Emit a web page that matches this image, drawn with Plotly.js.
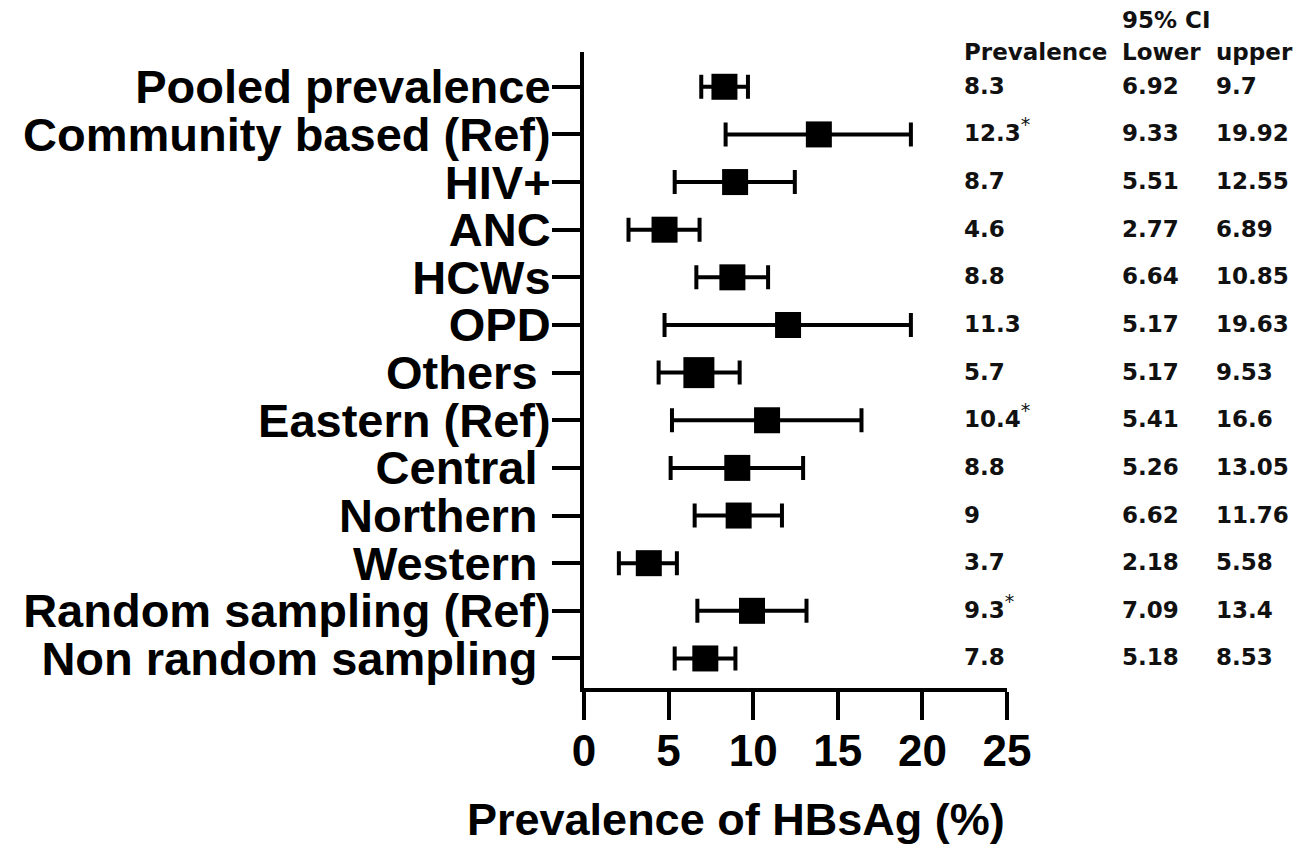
<!DOCTYPE html>
<html>
<head>
<meta charset="utf-8">
<script src="https://cdn.plot.ly/plotly-3.0.1.min.js"></script>
<style>html,body{margin:0;padding:0;background:#fff;}#chart{width:1305px;height:861px;}</style>
</head>
<body>
<div id="chart"></div>
<script>
// Categories (top to bottom)
const categories = ["Pooled prevalence","Community based (Ref)","HIV+","ANC","HCWs","OPD","Others","Eastern (Ref)","Central","Northern","Western","Random sampling (Ref)","Non random sampling"];
const tickLabels = ["Pooled prevalence","Community based (Ref)","HIV+","ANC","HCWs","OPD","Others\u00a0","Eastern (Ref)","Central\u00a0","Northern\u00a0","Western\u00a0","Random sampling (Ref)","Non random sampling\u00a0"];
// Plotted point estimates and CI ends
const pointEst = [8.30,13.88,8.93,4.76,8.77,12.06,6.79,10.82,9.06,9.14,3.83,9.93,7.17];
const ciLow    = [6.93,8.37,5.36,2.63,6.64,4.76,4.41,5.20,5.12,6.54,2.06,6.70,5.36];
const ciHigh   = [9.69,19.32,12.46,6.83,10.88,19.32,9.20,16.40,12.95,11.70,5.49,13.15,8.95];
const markerSizes = [26,26,26,26,26,26,31,26,26,26,26,26,26];
// Table text on the right
const star = "<sup><span style='font-weight:normal;font-size:19px'>*</span></sup>";
const prevText  = ["8.3","12.3"+star,"8.7","4.6","8.8","11.3","5.7","10.4"+star,"8.8","9","3.7","9.3"+star,"7.8"];
const lowerText = ["6.92","9.33","5.51","2.77","6.64","5.17","5.17","5.41","5.26","6.62","2.18","7.09","5.18"];
const upperText = ["9.7","19.92","12.55","6.89","10.85","19.63","9.53","16.6","13.05","11.76","5.58","13.4","8.53"];
const xTicks = [0,5,10,15,20,25];

const labelFont = {family:"Liberation Sans, Arial, sans-serif", size:47, color:"#000", weight:700};
const tableFont = {family:"DejaVu Sans, Verdana, sans-serif", size:23, color:"#111", weight:700};

const trace = {
  type:"scatter", mode:"markers",
  x: pointEst, y: categories,
  marker:{symbol:"square", size:markerSizes, color:"#000", opacity:1, line:{width:0}},
  error_x:{type:"data", symmetric:false,
    array: pointEst.map((v,i)=>ciHigh[i]-v),
    arrayminus: pointEst.map((v,i)=>v-ciLow[i]),
    color:"#000", thickness:4, width:12},
  cliponaxis:false, hoverinfo:"skip"
};

const annotations = [];
const colX = {prev:(963-584)/423, low:(1121-584)/423, up:(1215-584)/423};
categories.forEach((c,i)=>{
  [[prevText,colX.prev],[lowerText,colX.low],[upperText,colX.up]].forEach(([arr,xx])=>{
    annotations.push({xref:"paper", yref:"y", x:xx, y:c, text:arr[i], showarrow:false,
      xanchor:"left", yanchor:"bottom", font:tableFont, borderpad:0, yshift:-13});
  });
});
annotations.push({xref:"paper", yref:"paper", x:colX.low, y:(688-20)/636, text:"95% CI", showarrow:false, xanchor:"left", yanchor:"middle", font:tableFont, borderpad:0});
annotations.push({xref:"paper", yref:"paper", x:colX.prev, y:(688-52)/636, text:"Prevalence", showarrow:false, xanchor:"left", yanchor:"middle", font:tableFont, borderpad:0});
annotations.push({xref:"paper", yref:"paper", x:colX.low, y:(688-52)/636, text:"Lower", showarrow:false, xanchor:"left", yanchor:"middle", font:tableFont, borderpad:0});
annotations.push({xref:"paper", yref:"paper", x:colX.up, y:(688-52)/636, text:"upper", showarrow:false, xanchor:"left", yanchor:"middle", font:tableFont, borderpad:0});
annotations.push({xref:"paper", yref:"paper", x:(736-584)/423, y:(688-819)/636, text:"Prevalence of HBsAg (%)", showarrow:false, xanchor:"center", yanchor:"middle", font:{family:"Liberation Sans, Arial, sans-serif", size:45, color:"#000", weight:700}});

const layout = {
  width:1305, height:861,
  margin:{l:584, r:298, t:52, b:173, pad:0},
  paper_bgcolor:"#fff", plot_bgcolor:"#fff",
  showlegend:false,
  xaxis:{range:[0,25], tickmode:"array", tickvals:xTicks, ticktext:xTicks.map(String),
    showline:true, linecolor:"#000", linewidth:4, ticks:"outside", ticklen:28, tickwidth:4, tickcolor:"#000",
    showgrid:false, zeroline:false, tickfont:{family:"Liberation Sans, Arial, sans-serif", size:44, color:"#000", weight:700}, ticklabelstandoff:-7},
  yaxis:{type:"category", categoryorder:"array", categoryarray:categories, range:[12.62,-0.73],
    tickmode:"array", tickvals:categories, ticktext:tickLabels,
    showline:true, linecolor:"#000", linewidth:4, ticks:"outside", ticklen:28, tickwidth:4, tickcolor:"#000",
    showgrid:false, zeroline:false, tickfont:labelFont, ticklabelstandoff:-8},
  annotations: annotations
};

Plotly.newPlot("chart", [trace], layout, {staticPlot:true, displayModeBar:false});
</script>
</body>
</html>
